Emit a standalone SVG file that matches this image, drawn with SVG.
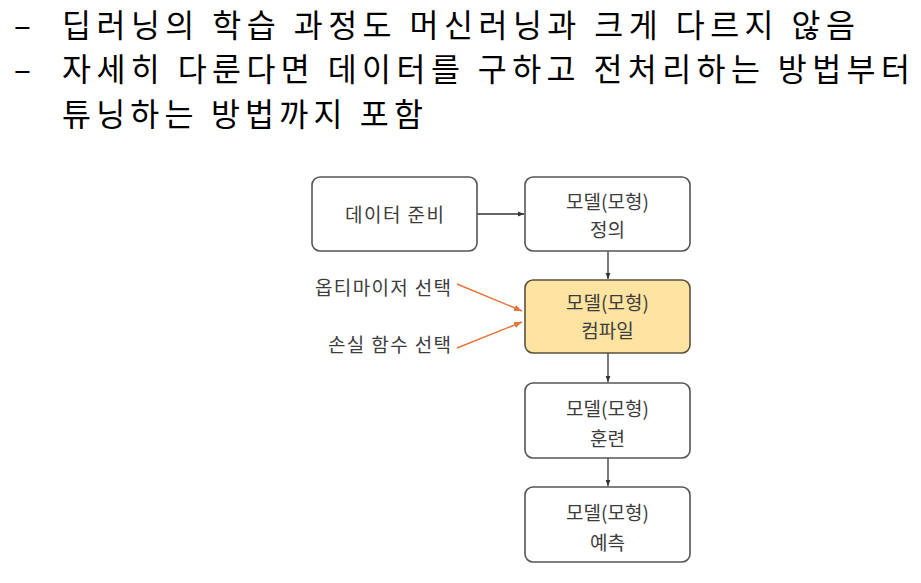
<svg xmlns="http://www.w3.org/2000/svg" width="921" height="583" viewBox="0 0 921 583">
<style>
  .head { font-family: "Noto Sans CJK KR", "Noto Sans", sans-serif; font-size: 31.5px; fill: #000; }
  .lbl { font-family: "Noto Sans CJK KR", "Noto Sans", sans-serif; font-size: 19px; fill: #3c3c3c; text-anchor: middle; }
  .side { font-family: "Noto Sans CJK KR", "Noto Sans", sans-serif; font-size: 19px; fill: #3c3c3c; text-anchor: end; }
  .box { fill: #fff; stroke: #555; stroke-width: 1.6; }
  .hl { fill: #FEE3A1; stroke: #5a5040; stroke-width: 1.6; }
  .conn { stroke: #333; stroke-width: 1.3; fill: none; }
  .oconn { stroke: #E3773F; stroke-width: 1.5; fill: none; }
</style>
<defs>
  <marker id="ah" viewBox="0 0 10 10" refX="10" refY="5" markerWidth="6" markerHeight="6" orient="auto" markerUnits="userSpaceOnUse">
    <path d="M0,1 L10,5 L0,9 Z" fill="#333"/>
  </marker>
  <marker id="oah" viewBox="0 0 10 10" refX="10" refY="5" markerWidth="8" markerHeight="8" orient="auto" markerUnits="userSpaceOnUse">
    <path d="M0,1 L10,5 L0,9 Z" fill="#E3773F"/>
  </marker>
</defs>
<rect width="921" height="583" fill="#fff"/>

<g id="heading">
  <text class="head" x="14" y="36.5">–</text>
  <text class="head" x="62" y="36.5" textLength="793" lengthAdjust="spacing">딥러닝의 학습 과정도 머신러닝과 크게 다르지 않음</text>
  <text class="head" x="14" y="81">–</text>
  <text class="head" x="62" y="81" textLength="848" lengthAdjust="spacing">자세히 다룬다면 데이터를 구하고 전처리하는 방법부터</text>
  <text class="head" x="62" y="126" textLength="361" lengthAdjust="spacing">튜닝하는 방법까지 포함</text>
</g>

<g id="connectors">
  <line class="conn" x1="477" y1="214" x2="524" y2="214" marker-end="url(#ah)"/>
  <line class="conn" x1="608" y1="251" x2="608" y2="279" marker-end="url(#ah)"/>
  <line class="conn" x1="608" y1="353" x2="608" y2="382" marker-end="url(#ah)"/>
  <line class="conn" x1="608" y1="458" x2="608" y2="486" marker-end="url(#ah)"/>
  <line class="oconn" x1="457" y1="284" x2="522" y2="311" marker-end="url(#oah)"/>
  <line class="oconn" x1="457" y1="348" x2="522" y2="322" marker-end="url(#oah)"/>
</g>

<g id="node-data">
  <rect class="box" x="312" y="177" width="165" height="74" rx="8"/>
  <text class="lbl" x="394.5" y="222" textLength="99" lengthAdjust="spacing">데이터 준비</text>
</g>
<g id="node-define">
  <rect class="box" x="525" y="177" width="165" height="74" rx="8"/>
  <text class="lbl" x="607.5" y="209">모델(모형)</text>
  <text class="lbl" x="607.5" y="237">정의</text>
</g>
<g id="node-compile">
  <rect class="hl" x="525" y="280" width="165" height="73" rx="8"/>
  <text class="lbl" x="607.5" y="310">모델(모형)</text>
  <text class="lbl" x="607.5" y="338">컴파일</text>
</g>
<g id="node-train">
  <rect class="box" x="525" y="383" width="165" height="75" rx="8"/>
  <text class="lbl" x="607.5" y="416">모델(모형)</text>
  <text class="lbl" x="607.5" y="446">훈련</text>
</g>
<g id="node-predict">
  <rect class="box" x="525" y="487" width="165" height="75" rx="8"/>
  <text class="lbl" x="607.5" y="520">모델(모형)</text>
  <text class="lbl" x="607.5" y="550">예측</text>
</g>
<g id="label-optimizer">
  <text class="side" x="451" y="295" textLength="136" lengthAdjust="spacing">옵티마이저 선택</text>
</g>
<g id="label-loss">
  <text class="side" x="451" y="352" textLength="123" lengthAdjust="spacing">손실 함수 선택</text>
</g>
</svg>
